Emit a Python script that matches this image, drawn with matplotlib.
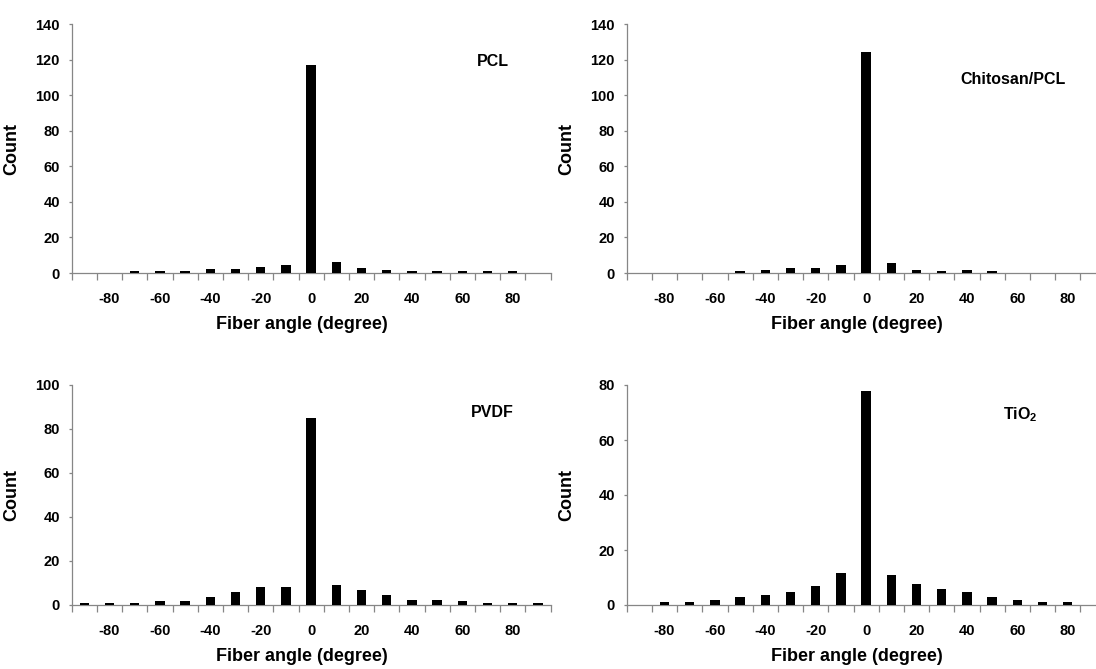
import matplotlib
matplotlib.use("Agg")
import matplotlib.pyplot as plt
from matplotlib.ticker import FixedLocator, FixedFormatter

plt.rcParams['font.family'] = ['Liberation Sans', 'DejaVu Sans']
plt.rcParams['font.weight'] = 'bold'
plt.rcParams['mathtext.fontset'] = 'custom'
plt.rcParams['mathtext.rm'] = 'Liberation Sans:bold'
plt.rcParams['mathtext.bf'] = 'Liberation Sans:bold'
plt.rcParams['mathtext.it'] = 'Liberation Sans:bold'

angles = [-90, -80, -70, -60, -50, -40, -30, -20, -10, 0, 10, 20, 30, 40, 50, 60, 70, 80, 90]
tick_labels = ['-80', '-60', '-40', '-20', '0', '20', '40', '60', '80']
tick_values = [-80, -60, -40, -20, 0, 20, 40, 60, 80]

pcl = [0, 0, 1, 1, 1, 2, 2, 3.5, 4.3, 117, 6.3, 2.8, 1.7, 1, 1, 1, 1, 1, 0]
chitosan_pcl = [0, 0, 0, 0, 1, 1.6, 3, 2.8, 4.3, 124, 5.7, 1.6, 1, 1.6, 1, 0, 0, 0, 0]
pvdf = [0.8, 0.8, 0.8, 1.6, 1.6, 3.5, 6, 8, 8, 85, 9, 7, 4.5, 2.5, 2.5, 1.6, 0.8, 0.8, 0.8]
tio2 = [0, 1, 1, 2, 3, 3.7, 4.8, 6.8, 11.8, 78, 11, 7.8, 5.9, 4.7, 2.8, 1.7, 1, 1, 0]

names = ['PCL', 'Chitosan/PCL', 'PVDF', r'TiO$_2$']
series = [pcl, chitosan_pcl, pvdf, tio2]
ymax = [140, 140, 100, 80]

W, H = 1096, 669
fig = plt.figure(figsize=(W / 100, H / 100), dpi=100)

# axes boxes in pixels: left, top, width, height
boxes = [
    (71.7, 24, 478.8, 249),
    (626.7, 24, 478.8, 249),
    (71.7, 385, 478.8, 220),
    (626.7, 385, 478.8, 220),
]
label_pos = [(0.88, 0.85), (0.807, 0.778), (0.878, 0.877), (0.822, 0.864)]
grey = '#868686'

for i, (name, vals, ym, box) in enumerate(zip(names, series, ymax, boxes)):
    l, t, w, h = box
    ax = fig.add_axes([l / W, 1 - (t + h) / H, w / W, h / H])
    ax.bar(angles, vals, width=3.7, color='black', zorder=3)
    ax.set_xlim(-95, 95)
    ax.set_ylim(0, ym)
    ax.set_yticks(list(range(0, ym + 1, 20)))
    for s in ['top', 'right']:
        ax.spines[s].set_visible(False)
    for s in ['left', 'bottom']:
        ax.spines[s].set_color(grey)
        ax.spines[s].set_linewidth(0.9)
    # category boundaries as major ticks, labels on minor ticks
    bounds = [a - 5 for a in angles] + [angles[-1] + 5]
    ax.xaxis.set_major_locator(FixedLocator(bounds))
    ax.xaxis.set_major_formatter(FixedFormatter([''] * len(bounds)))
    ax.xaxis.set_minor_locator(FixedLocator(tick_values))
    ax.xaxis.set_minor_formatter(FixedFormatter(tick_labels))
    ax.tick_params(axis='x', which='major', direction='out', length=5, width=0.9, color=grey)
    ax.tick_params(axis='x', which='minor', length=0, pad=14, labelsize=10.5)
    ax.tick_params(axis='y', direction='out', length=2.5, width=0.9, color=grey, pad=6, labelsize=10.5)
    for lab in ax.get_xticklabels(minor=True) + ax.get_yticklabels():
        lab.set_fontweight('bold')
    ax.set_xlabel('Fiber angle (degree)', fontsize=13, fontweight='bold')
    ax.set_ylabel('Count', fontsize=13, fontweight='bold')
    ax.yaxis.set_label_coords(-0.107, 0.5)
    ax.xaxis.set_label_coords(0.48, -43 / h)
    ax.text(label_pos[i][0], label_pos[i][1], name, transform=ax.transAxes,
            ha='center', va='center', fontsize=11.5, fontweight='bold')

fig.savefig('out.png', dpi=100)
